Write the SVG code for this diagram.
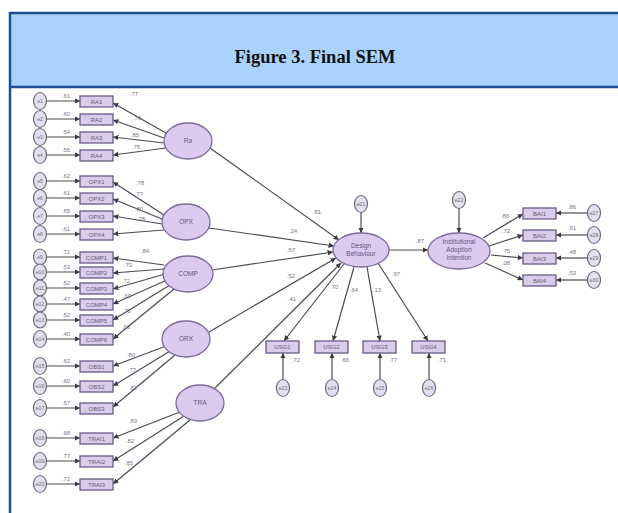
<svg xmlns="http://www.w3.org/2000/svg" width="618" height="513" viewBox="0 0 618 513">
<style>
.lat{fill:#dccbee;stroke:#7a6a98;stroke-width:1.3}
.ind{fill:#d9cdea;stroke:#675a8a;stroke-width:1.3}
.err{fill:#e4dfee;stroke:#6a6678;stroke-width:1.2}
.ln{stroke:#4a4a54;stroke-width:1.2;fill:none;marker-end:url(#ah)}
.t{font-family:"Liberation Sans",Arial,sans-serif;font-size:6px;fill:#625a78;text-anchor:middle}
.w{font-family:"Liberation Sans",Arial,sans-serif;font-size:6px;fill:#7a7488;text-anchor:middle}
.lt{font-family:"Liberation Sans",Arial,sans-serif;font-size:6.5px;fill:#665684;text-anchor:middle}
.et{font-family:"Liberation Sans",Arial,sans-serif;font-size:5px;fill:#6a6678;text-anchor:middle}
</style>
<defs>
<marker id="ah" viewBox="0 0 6 6" refX="6" refY="3" markerWidth="4.5" markerHeight="4.5" orient="auto"><path d="M0,0 L6,3 L0,6 z" fill="#3a3a44"/></marker>
</defs>
<rect x="0" y="0" width="618" height="513" fill="#ffffff"/>
<g id="header">
<rect x="10" y="13" width="608" height="74" fill="#a9d3fb"/>
<line x1="10" y1="13" x2="618" y2="13" stroke="#1d4f94" stroke-width="2.5"/>
<line x1="10" y1="87" x2="618" y2="87" stroke="#1d4f94" stroke-width="2.5"/>
<line x1="10" y1="12" x2="10" y2="513" stroke="#1d4f94" stroke-width="2.5"/>
<text x="315" y="63" font-family="Liberation Serif,Times New Roman,serif" font-weight="bold" font-size="18.5" text-anchor="middle" fill="#111">Figure 3. Final SEM</text>
</g>
<g id="connectors">
<line class="ln" x1="46" y1="101" x2="80" y2="101"/>
<line class="ln" x1="46" y1="119" x2="80" y2="119"/>
<line class="ln" x1="46" y1="137" x2="80" y2="137"/>
<line class="ln" x1="46" y1="155" x2="80" y2="155"/>
<line class="ln" x1="46" y1="181" x2="80" y2="181"/>
<line class="ln" x1="46" y1="198" x2="80" y2="198"/>
<line class="ln" x1="46" y1="216" x2="80" y2="216"/>
<line class="ln" x1="46" y1="234" x2="80" y2="234"/>
<line class="ln" x1="46" y1="257" x2="80" y2="257"/>
<line class="ln" x1="46" y1="272" x2="80" y2="272"/>
<line class="ln" x1="46" y1="288" x2="80" y2="288"/>
<line class="ln" x1="46" y1="304" x2="80" y2="304"/>
<line class="ln" x1="46" y1="320" x2="80" y2="320"/>
<line class="ln" x1="46" y1="339" x2="80" y2="339"/>
<line class="ln" x1="46" y1="366" x2="80" y2="366"/>
<line class="ln" x1="46" y1="386" x2="80" y2="386"/>
<line class="ln" x1="46" y1="408" x2="80" y2="408"/>
<line class="ln" x1="46" y1="438" x2="80" y2="438"/>
<line class="ln" x1="46" y1="461" x2="80" y2="461"/>
<line class="ln" x1="46" y1="484" x2="80" y2="484"/>
<line class="ln" x1="166" y1="133" x2="113" y2="103"/>
<line class="ln" x1="164" y1="138" x2="113" y2="120"/>
<line class="ln" x1="164" y1="143" x2="113" y2="137"/>
<line class="ln" x1="166" y1="148" x2="113" y2="155"/>
<line class="ln" x1="164" y1="215" x2="113" y2="182"/>
<line class="ln" x1="162" y1="219" x2="113" y2="199"/>
<line class="ln" x1="162" y1="224" x2="113" y2="216"/>
<line class="ln" x1="164" y1="230" x2="113" y2="234"/>
<line class="ln" x1="164" y1="265" x2="113" y2="258"/>
<line class="ln" x1="164" y1="269" x2="113" y2="273"/>
<line class="ln" x1="165" y1="274" x2="113" y2="289"/>
<line class="ln" x1="167" y1="280" x2="113" y2="304"/>
<line class="ln" x1="170" y1="285" x2="113" y2="320"/>
<line class="ln" x1="174" y1="289" x2="113" y2="339"/>
<line class="ln" x1="166" y1="346" x2="113" y2="366"/>
<line class="ln" x1="170" y1="351" x2="113" y2="386"/>
<line class="ln" x1="175" y1="355" x2="113" y2="407"/>
<line class="ln" x1="180" y1="412" x2="113" y2="438"/>
<line class="ln" x1="184" y1="416" x2="113" y2="461"/>
<line class="ln" x1="190" y1="420" x2="113" y2="484"/>
<line class="ln" x1="210" y1="148" x2="339" y2="240"/>
<line class="ln" x1="209" y1="228" x2="334" y2="246"/>
<line class="ln" x1="212" y1="270" x2="333" y2="252"/>
<line class="ln" x1="209" y1="332" x2="336" y2="258"/>
<line class="ln" x1="215" y1="388" x2="341" y2="263"/>
<line class="ln" x1="361" y1="212" x2="361" y2="233"/>
<line class="ln" x1="459" y1="208" x2="459" y2="233"/>
<line class="ln" x1="389" y1="250" x2="428" y2="250"/>
<line class="ln" x1="344" y1="264" x2="284" y2="341"/>
<line class="ln" x1="354" y1="267" x2="333" y2="341"/>
<line class="ln" x1="367" y1="267" x2="380" y2="341"/>
<line class="ln" x1="378" y1="263" x2="428" y2="341"/>
<line class="ln" x1="283" y1="379" x2="283" y2="353"/>
<line class="ln" x1="332" y1="379" x2="332" y2="353"/>
<line class="ln" x1="380" y1="379" x2="380" y2="353"/>
<line class="ln" x1="429" y1="379" x2="429" y2="353"/>
<line class="ln" x1="483" y1="238" x2="523" y2="214"/>
<line class="ln" x1="489" y1="246" x2="523" y2="235"/>
<line class="ln" x1="491" y1="255" x2="523" y2="258"/>
<line class="ln" x1="485" y1="263" x2="523" y2="280"/>
<line class="ln" x1="588" y1="213" x2="556" y2="213"/>
<line class="ln" x1="588" y1="235" x2="556" y2="235"/>
<line class="ln" x1="588" y1="258" x2="556" y2="258"/>
<line class="ln" x1="588" y1="280" x2="556" y2="280"/>
</g>
<g id="weights">
<text class="w" x="66" y="98">.61</text><text class="w" x="66" y="116">.60</text><text class="w" x="66" y="134">.54</text><text class="w" x="66" y="152">.56</text>
<text class="w" x="66" y="178">.62</text><text class="w" x="66" y="195">.61</text><text class="w" x="66" y="213">.65</text><text class="w" x="66" y="231">.61</text>
<text class="w" x="66" y="254">.71</text><text class="w" x="66" y="269">.53</text><text class="w" x="66" y="285">.52</text><text class="w" x="66" y="301">.47</text><text class="w" x="66" y="317">.52</text><text class="w" x="66" y="336">.40</text>
<text class="w" x="66" y="363">.63</text><text class="w" x="66" y="383">.60</text><text class="w" x="66" y="405">.67</text>
<text class="w" x="66" y="435">.68</text><text class="w" x="66" y="458">.77</text><text class="w" x="66" y="481">.72</text>
<text class="w" x="134" y="96">.77</text><text class="w" x="137" y="120">.70</text><text class="w" x="135" y="137">.85</text><text class="w" x="136" y="149">.75</text>
<text class="w" x="140" y="185">.78</text><text class="w" x="139" y="196">.77</text><text class="w" x="139" y="211">.80</text><text class="w" x="141" y="221">.78</text>
<text class="w" x="145" y="253">.84</text><text class="w" x="128" y="267">.73</text><text class="w" x="126" y="283">.72</text><text class="w" x="127" y="298">.69</text><text class="w" x="127" y="313">.72</text><text class="w" x="126" y="329">.63</text>
<text class="w" x="131" y="357">.80</text><text class="w" x="132" y="372">.77</text><text class="w" x="133" y="390">.82</text>
<text class="w" x="133" y="423">.83</text><text class="w" x="130" y="443">.82</text><text class="w" x="129" y="465">.85</text>
<text class="w" x="317" y="214">.81</text><text class="w" x="293" y="233">.24</text><text class="w" x="291" y="252">.57</text><text class="w" x="291" y="278">.52</text><text class="w" x="292" y="301">.41</text>
<text class="w" x="420" y="243">.87</text>
<text class="w" x="334" y="289">.70</text><text class="w" x="354" y="292">.64</text><text class="w" x="377" y="292">.13</text><text class="w" x="396" y="276">.97</text>
<text class="w" x="296" y="362">.72</text><text class="w" x="345" y="362">.66</text><text class="w" x="393" y="362">.77</text><text class="w" x="442" y="362">.71</text>
<text class="w" x="505" y="218">.86</text><text class="w" x="506" y="233">.72</text><text class="w" x="506" y="253">.75</text><text class="w" x="506" y="265">.08</text>
<text class="w" x="572" y="209">.86</text><text class="w" x="572" y="230">.91</text><text class="w" x="572" y="254">.48</text><text class="w" x="572" y="275">.53</text>
</g>
<g id="errors-left">
<ellipse class="err" cx="40" cy="101" rx="6.5" ry="8.5"/><text class="et" x="40" y="103">e1</text>
<ellipse class="err" cx="40" cy="119" rx="6.5" ry="8.5"/><text class="et" x="40" y="121">e2</text>
<ellipse class="err" cx="40" cy="137" rx="6.5" ry="8.5"/><text class="et" x="40" y="139">e3</text>
<ellipse class="err" cx="40" cy="155" rx="6.5" ry="8.5"/><text class="et" x="40" y="157">e4</text>
<ellipse class="err" cx="40" cy="181" rx="6.5" ry="8.5"/><text class="et" x="40" y="183">e5</text>
<ellipse class="err" cx="40" cy="198" rx="6.5" ry="8.5"/><text class="et" x="40" y="200">e6</text>
<ellipse class="err" cx="40" cy="216" rx="6.5" ry="8.5"/><text class="et" x="40" y="218">e7</text>
<ellipse class="err" cx="40" cy="234" rx="6.5" ry="8.5"/><text class="et" x="40" y="236">e8</text>
<ellipse class="err" cx="40" cy="257" rx="6.5" ry="8"/><text class="et" x="40" y="259">e9</text>
<ellipse class="err" cx="40" cy="272" rx="6.5" ry="8"/><text class="et" x="40" y="274">e10</text>
<ellipse class="err" cx="40" cy="288" rx="6.5" ry="8"/><text class="et" x="40" y="290">e11</text>
<ellipse class="err" cx="40" cy="304" rx="6.5" ry="8"/><text class="et" x="40" y="306">e12</text>
<ellipse class="err" cx="40" cy="320" rx="6.5" ry="8"/><text class="et" x="40" y="322">e13</text>
<ellipse class="err" cx="40" cy="339" rx="6.5" ry="8.5"/><text class="et" x="40" y="341">e14</text>
<ellipse class="err" cx="40" cy="366" rx="6.5" ry="8.5"/><text class="et" x="40" y="368">e15</text>
<ellipse class="err" cx="40" cy="386" rx="6.5" ry="8.5"/><text class="et" x="40" y="388">e16</text>
<ellipse class="err" cx="40" cy="408" rx="6.5" ry="8.5"/><text class="et" x="40" y="410">e17</text>
<ellipse class="err" cx="40" cy="438" rx="6.5" ry="8.5"/><text class="et" x="40" y="440">e18</text>
<ellipse class="err" cx="40" cy="461" rx="6.5" ry="8.5"/><text class="et" x="40" y="463">e19</text>
<ellipse class="err" cx="40" cy="484" rx="6.5" ry="8.5"/><text class="et" x="40" y="486">e20</text>
</g>
<g id="indicators-left">
<rect class="ind" x="80" y="96" width="33" height="11"/><text class="t" x="96.5" y="103.5">RA1</text>
<rect class="ind" x="80" y="114" width="33" height="11"/><text class="t" x="96.5" y="121.5">RA2</text>
<rect class="ind" x="80" y="132" width="33" height="11"/><text class="t" x="96.5" y="139.5">RA3</text>
<rect class="ind" x="80" y="150" width="33" height="11"/><text class="t" x="96.5" y="157.5">RA4</text>
<rect class="ind" x="80" y="176" width="33" height="11"/><text class="t" x="96.5" y="183.5">OPX1</text>
<rect class="ind" x="80" y="193" width="33" height="11"/><text class="t" x="96.5" y="200.5">OPX2</text>
<rect class="ind" x="80" y="211" width="33" height="11"/><text class="t" x="96.5" y="218.5">OPX3</text>
<rect class="ind" x="80" y="229" width="33" height="11"/><text class="t" x="96.5" y="236.5">OPX4</text>
<rect class="ind" x="80" y="252" width="33" height="11"/><text class="t" x="96.5" y="259.5">COMP1</text>
<rect class="ind" x="80" y="267" width="33" height="11"/><text class="t" x="96.5" y="274.5">COMP2</text>
<rect class="ind" x="80" y="283" width="33" height="11"/><text class="t" x="96.5" y="290.5">COMP3</text>
<rect class="ind" x="80" y="299" width="33" height="11"/><text class="t" x="96.5" y="306.5">COMP4</text>
<rect class="ind" x="80" y="315" width="33" height="11"/><text class="t" x="96.5" y="322.5">COMP5</text>
<rect class="ind" x="80" y="334" width="33" height="11"/><text class="t" x="96.5" y="341.5">COMP6</text>
<rect class="ind" x="80" y="361" width="33" height="11"/><text class="t" x="96.5" y="368.5">OBS1</text>
<rect class="ind" x="80" y="381" width="33" height="11"/><text class="t" x="96.5" y="388.5">OBS2</text>
<rect class="ind" x="80" y="403" width="33" height="11"/><text class="t" x="96.5" y="410.5">OBS3</text>
<rect class="ind" x="80" y="433" width="33" height="11"/><text class="t" x="96.5" y="440.5">TRAI1</text>
<rect class="ind" x="80" y="456" width="33" height="11"/><text class="t" x="96.5" y="463.5">TRAI2</text>
<rect class="ind" x="80" y="479" width="33" height="11"/><text class="t" x="96.5" y="486.5">TRAI3</text>
</g>
<g id="latent-Ra"><ellipse class="lat" cx="188" cy="141" rx="24" ry="18"/><text class="lt" x="188" y="143">Ra</text></g>
<g id="latent-OPX"><ellipse class="lat" cx="186" cy="222" rx="24" ry="18"/><text class="lt" x="186" y="224">OPX</text></g>
<g id="latent-COMP"><ellipse class="lat" cx="188" cy="274" rx="25" ry="18"/><text class="lt" x="188" y="276">COMP</text></g>
<g id="latent-OBX"><ellipse class="lat" cx="186" cy="339" rx="24" ry="18"/><text class="lt" x="186" y="341">ORX</text></g>
<g id="latent-TRA"><ellipse class="lat" cx="200" cy="403" rx="24" ry="18"/><text class="lt" x="200" y="405">TRA</text></g>
<g id="design-behaviour">
<ellipse class="lat" cx="361" cy="250" rx="28" ry="17"/>
<text class="lt" x="361" y="248">Design</text><text class="lt" x="361" y="256">Behaviour</text>
<ellipse class="err" cx="361" cy="204" rx="6.5" ry="8.5"/><text class="et" x="361" y="206">e21</text>
</g>
<g id="institutional-adoption-intention">
<ellipse class="lat" cx="459" cy="251" rx="31" ry="18"/>
<text class="lt" x="459" y="244">Institutional</text><text class="lt" x="459" y="252">Adoption</text><text class="lt" x="459" y="260">Intention</text>
<ellipse class="err" cx="459" cy="200" rx="6.5" ry="8.5"/><text class="et" x="459" y="202">e22</text>
</g>
<g id="usg">
<rect class="ind" x="266" y="341" width="33" height="12"/><text class="t" x="282.5" y="349">USG1</text>
<rect class="ind" x="315" y="341" width="33" height="12"/><text class="t" x="331.5" y="349">USG2</text>
<rect class="ind" x="363" y="341" width="33" height="12"/><text class="t" x="379.5" y="349">USG3</text>
<rect class="ind" x="412" y="341" width="33" height="12"/><text class="t" x="428.5" y="349">USG4</text>
<ellipse class="err" cx="283" cy="388" rx="6.5" ry="8.5"/><text class="et" x="283" y="390">e23</text>
<ellipse class="err" cx="332" cy="388" rx="6.5" ry="8.5"/><text class="et" x="332" y="390">e24</text>
<ellipse class="err" cx="380" cy="388" rx="6.5" ry="8.5"/><text class="et" x="380" y="390">e25</text>
<ellipse class="err" cx="429" cy="388" rx="6.5" ry="8.5"/><text class="et" x="429" y="390">e26</text>
</g>
<g id="bai">
<rect class="ind" x="523" y="208" width="33" height="11"/><text class="t" x="539.5" y="215.5">BAI1</text>
<rect class="ind" x="523" y="230" width="33" height="11"/><text class="t" x="539.5" y="237.5">BAI2</text>
<rect class="ind" x="523" y="253" width="33" height="11"/><text class="t" x="539.5" y="260.5">BAI3</text>
<rect class="ind" x="523" y="275" width="33" height="11"/><text class="t" x="539.5" y="282.5">BAI4</text>
<ellipse class="err" cx="594" cy="213" rx="6.5" ry="8.5"/><text class="et" x="594" y="215">e27</text>
<ellipse class="err" cx="594" cy="235" rx="6.5" ry="8.5"/><text class="et" x="594" y="237">e28</text>
<ellipse class="err" cx="594" cy="258" rx="6.5" ry="8.5"/><text class="et" x="594" y="260">e29</text>
<ellipse class="err" cx="594" cy="280" rx="6.5" ry="8.5"/><text class="et" x="594" y="282">e30</text>
</g>
</svg>
